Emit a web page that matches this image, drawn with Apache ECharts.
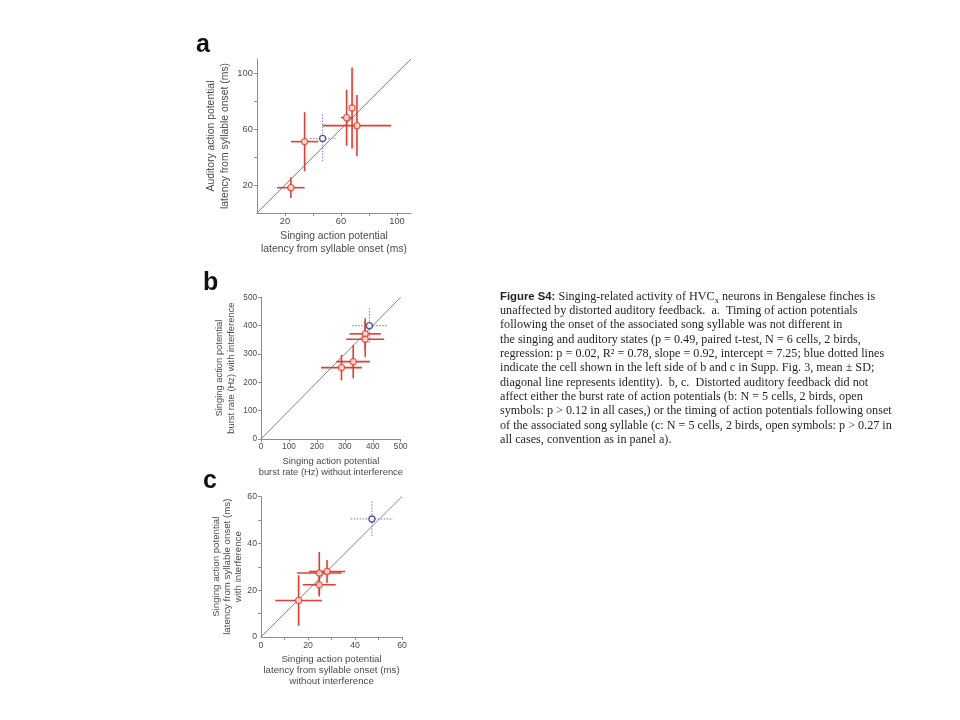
<!DOCTYPE html>
<html><head><meta charset="utf-8">
<script src="https://cdn.jsdelivr.net/npm/echarts@6/dist/echarts.min.js"></script>
<style>html,body{margin:0;padding:0;background:#fff}#c{width:960px;height:720px}</style>
</head><body><div id="c"></div>
<script>
// ---- Panel a: singing vs auditory latency (ms) ----
const aX = [24.2, 34, 64, 67.9, 71.4];
const aY = [18.1, 51, 68.1, 75, 62.4];
const aXsd = [9.8, 9.8, 4, 2, 24.5];
const aYsd = [7.4, 21, 20, 29, 21.8];
const aBlue = [46.9, 53.3, 9, 17];           // x, y, xSD, ySD
const aTicks = [20, 40, 60, 80, 100];
const aLabels = [20, 60, 100];

// ---- Panel b: burst rate (Hz) ----
const bX = [288, 330, 373, 373];
const bY = [252, 273, 371, 352];
const bXsd = [73, 60, 56, 68];
const bYsd = [45, 59, 55, 62];
const bBlue = [388, 400, 62, 62];
const bTicks = [0, 100, 200, 300, 400, 500];

// ---- Panel c: latency with/without interference (ms) ----
const cX = [16, 24.8, 24.8, 28.1];
const cY = [15.6, 22.3, 27.3, 28];
const cXsd = [9.9, 7, 9.5, 7.7];
const cYsd = [10.8, 5, 9, 4.9];
const cBlue = [47.2, 50.4, 9, 7.5];
const cTicks = [10, 20, 30, 40, 50, 60];
const cLabels = [0, 20, 40, 60];

const captionLines = [
  '{b|Figure S4:} Singing-related activity of HVC{sub|x} neurons in Bengalese finches is',
  'unaffected by distorted auditory feedback.  a.  Timing of action potentials',
  'following the onset of the associated song syllable was not different in',
  'the singing and auditory states (p = 0.49, paired t-test, N = 6 cells, 2 birds,',
  'regression: p = 0.02, R\u00b2 = 0.78, slope = 0.92, intercept = 7.25; blue dotted lines',
  'indicate the cell shown in the left side of b and c in Supp. Fig. 3, mean \u00b1 SD;',
  'diagonal line represents identity).  b, c.  Distorted auditory feedback did not',
  'affect either the burst rate of action potentials (b: N = 5 cells, 2 birds, open',
  'symbols: p > 0.12 in all cases,) or the timing of action potentials following onset',
  'of the associated song syllable (c: N = 5 cells, 2 birds, open symbols: p > 0.27 in',
  'all cases, convention as in panel a).'
];

const RED = '#e63b2e', BLUE_LINE = '#6c7cc6', BLUE_PT = '#2b2d84', AXIS = '#8c8c8c', LABEL = '#4a4a4a';
const SANS = 'Liberation Sans, Arial, sans-serif';

function errRender(color, dashed) {
  return function (params, api) {
    const x = api.value(0), y = api.value(1), sx = api.value(2), sy = api.value(3);
    const l = api.coord([x - sx, y]), r = api.coord([x + sx, y]);
    const t = api.coord([x, y + sy]), b = api.coord([x, y - sy]);
    const st = { stroke: color, lineWidth: dashed ? 1 : 1.6, lineDash: dashed ? [1.5, 1.5] : null };
    return { type: 'group', children: [
      { type: 'line', shape: { x1: l[0], y1: l[1], x2: r[0], y2: r[1] }, style: st },
      { type: 'line', shape: { x1: t[0], y1: t[1], x2: b[0], y2: b[1] }, style: st }
    ]};
  };
}

function axis(dim, gi, max, ticks, labels, fs, name, gap, lh) {
  return {
    type: 'value', gridIndex: gi, min: 0, max: max,
    splitLine: { show: false },
    axisLine: { show: true, onZero: false, lineStyle: { color: AXIS, width: 1 } },
    axisTick: { show: true, length: 3, customValues: ticks, lineStyle: { color: AXIS } },
    axisLabel: { color: LABEL, fontSize: fs, fontFamily: SANS, margin: 4, customValues: labels },
    name: name, nameLocation: 'middle', nameGap: gap,
    nameTextStyle: { color: LABEL, fontSize: lh[0], lineHeight: lh[1], fontFamily: SANS }
  };
}

function panelSeries(gi, xs, ys, xsd, ysd, blue, max) {
  const red = xs.map((v, i) => [v, ys[i], xsd[i], ysd[i]]);
  return [
    { type: 'line', xAxisIndex: gi, yAxisIndex: gi, data: [[0, 0], [max, max]], showSymbol: false,
      lineStyle: { color: '#666', width: 0.8 }, silent: true, z: 1 },
    { type: 'custom', xAxisIndex: gi, yAxisIndex: gi, data: red, renderItem: errRender(RED, false), z: 2 },
    { type: 'custom', xAxisIndex: gi, yAxisIndex: gi, data: [blue], renderItem: errRender(BLUE_LINE, true), z: 2 },
    { type: 'scatter', xAxisIndex: gi, yAxisIndex: gi, data: red.map(d => [d[0], d[1]]), symbol: 'circle', symbolSize: 6,
      itemStyle: { color: '#fffbe8', borderColor: RED, borderWidth: 1.3 }, z: 3 },
    { type: 'scatter', xAxisIndex: gi, yAxisIndex: gi, data: [[blue[0], blue[1]]], symbol: 'circle', symbolSize: 6,
      itemStyle: { color: '#fff', borderColor: BLUE_PT, borderWidth: 1.3 }, z: 3 }
  ];
}

// caption font fitting (horizontal scale)
const CAP_FS = 11.6;
const SERIF = 'Liberation Serif, Times New Roman, serif';
const cv = document.createElement('canvas').getContext('2d');
cv.font = CAP_FS + 'px ' + SERIF;
const capScale = 391.7 / cv.measureText(captionLines[8]).width;

const graphics = [
  { type: 'text', left: 196, top: 33, style: { text: 'a', font: 'bold 25px ' + SANS, fill: '#111' } },
  { type: 'text', left: 203, top: 271, style: { text: 'b', font: 'bold 25px ' + SANS, fill: '#111' } },
  { type: 'text', left: 203, top: 469, style: { text: 'c', font: 'bold 25px ' + SANS, fill: '#111' } }
];
captionLines.forEach((t, i) => {
  graphics.push({
    type: 'text', x: 500, y: 296.7 + i * 14.33, scaleX: capScale,
    style: {
      text: t, fill: '#231f20', font: CAP_FS + 'px ' + SERIF, verticalAlign: 'middle', align: 'left',
      rich: {
        b: { fontFamily: SANS, fontWeight: 'bold', fontSize: 10.8, fill: '#231f20' },
        sub: { fontFamily: SERIF, fontSize: 8, padding: [9, 0, 0, 0], fill: '#231f20' }
      }
    }
  });
});

const chart = echarts.init(document.getElementById('c'), null, { renderer: 'canvas' });
chart.setOption({
  backgroundColor: '#fff',
  animation: false,
  grid: [
    { left: 257, top: 59, width: 154, height: 154 },
    { left: 261, top: 297.3, width: 139.7, height: 141.7 },
    { left: 261, top: 496.5, width: 141, height: 140.5 }
  ],
  xAxis: [
    axis('x', 0, 110, aTicks, aLabels, 9.4, 'Singing action potential\nlatency from syllable onset (ms)', 17, [10.4, 13]),
    axis('x', 1, 500, bTicks, bTicks, 8.2, 'Singing action potential\nburst rate (Hz) without interference', 17, [9.4, 11]),
    axis('x', 2, 60, cTicks, cLabels, 8.7, 'Singing action potential\nlatency from syllable onset (ms)\nwithout interference', 17, [9.7, 11])
  ],
  yAxis: [
    axis('y', 0, 110, aTicks, aLabels, 9.4, 'Auditory action potential\nlatency from syllable onset (ms)', 25, [10.4, 14]),
    axis('y', 1, 500, bTicks, bTicks, 8.2, 'Singing action potential\nburst rate (Hz) with interference', 24, [9.4, 11.7]),
    axis('y', 2, 60, cTicks, cLabels, 8.7, 'Singing action potential\nlatency from syllable onset (ms)\nwith interference', 17, [9.7, 11])
  ],
  series: [].concat(
    panelSeries(0, aX, aY, aXsd, aYsd, aBlue, 110),
    panelSeries(1, bX, bY, bXsd, bYsd, bBlue, 500),
    panelSeries(2, cX, cY, cXsd, cYsd, cBlue, 60)
  ),
  graphic: graphics
});
</script></body></html>
